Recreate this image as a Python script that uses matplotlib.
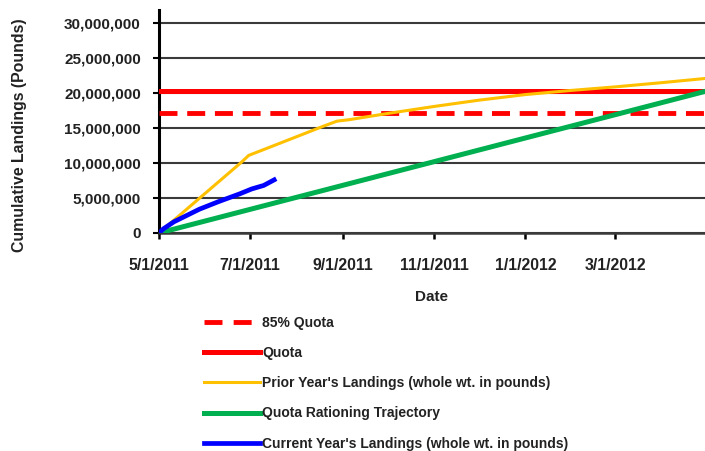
import matplotlib
matplotlib.use("Agg")
import matplotlib.pyplot as plt
from matplotlib.ticker import FuncFormatter, MultipleLocator
import datetime as dt

# Season window
season_start = "2011-05-01"
season_end = "2012-04-30"

quota = 20_250_000
quota_85 = 0.85 * quota

# Prior year's cumulative landings
prior_dates = ["2011-05-01", "2011-06-25", "2011-06-30", "2011-07-18", "2011-08-18",
               "2011-08-28", "2011-09-05", "2011-10-01", "2011-11-01", "2011-12-01",
               "2012-01-01", "2012-02-01", "2012-03-01", "2012-04-01", "2012-04-30"]
prior_vals = [0, 10_100_000, 11_100_000, 12_600_000, 15_200_000,
              16_000_000, 16_200_000, 17_100_000, 18_100_000, 19_000_000,
              19_800_000, 20_400_000, 20_900_000, 21_500_000, 22_100_000]

# Current year's cumulative landings
current_dates = ["2011-05-01", "2011-05-04", "2011-05-11", "2011-05-28", "2011-06-10",
                 "2011-06-24", "2011-07-02", "2011-07-10", "2011-07-17"]
current_vals = [0, 600_000, 1_600_000, 3_400_000, 4_500_000,
                5_600_000, 6_300_000, 6_800_000, 7_600_000]

# Quota rationing trajectory: straight line to the quota at season end
traj_dates = [season_start, season_end]
traj_vals = [0, quota]

tick_dates = ["2011-05-01", "2011-07-01", "2011-09-01", "2011-11-01", "2012-01-01", "2012-03-01"]
tick_labels = ["5/1/2011", "7/1/2011", "9/1/2011", "11/1/2011", "1/1/2012", "3/1/2012"]


def to_dt(seq):
    return [dt.datetime.strptime(s, "%Y-%m-%d") for s in seq]


plt.rcParams["font.family"] = ["Liberation Sans", "DejaVu Sans"]

fig = plt.figure(figsize=(7.05, 4.51), dpi=100)
ax = fig.add_axes([0.2255, 0.4834, 0.7745, 0.4945])

season = to_dt([season_start, season_end])
ax.set_xlim(season[0], season[1])
ax.set_ylim(0, 31_900_000)

ax.plot(season, [quota_85, quota_85], color="#FF0000", lw=3.5, dashes=(3.7, 2.0),
        label="85% Quota", zorder=3)
ax.plot(season, [quota, quota], color="#FF0000", lw=3.6, label="Quota", zorder=3)
ax.plot(to_dt(prior_dates), prior_vals, color="#FFC000", lw=2.2,
        label="Prior Year's Landings (whole wt. in pounds)", zorder=4)
ax.plot(to_dt(traj_dates), traj_vals, color="#00B050", lw=3.6,
        label="Quota Rationing Trajectory", zorder=4)
ax.plot(to_dt(current_dates), current_vals, color="#0000FF", lw=3.4,
        label="Current Year's Landings (whole wt. in pounds)", zorder=5)

# Gridlines
ax.yaxis.set_major_locator(MultipleLocator(5_000_000))
ax.yaxis.set_major_formatter(FuncFormatter(lambda v, p: f"{int(v):,}"))
ax.grid(axis="y", color="#3a3a3a", lw=1.5, zorder=1)
ax.set_axisbelow(True)

ax.set_xticks(to_dt(tick_dates))
ax.set_xticklabels(tick_labels)

for s in ["top", "right"]:
    ax.spines[s].set_visible(False)
ax.spines["left"].set_color("black")
ax.spines["left"].set_linewidth(2.2)
ax.spines["bottom"].set_color("#3a3a3a")
ax.spines["bottom"].set_linewidth(1.8)

ax.tick_params(axis="y", direction="out", length=4, width=1.5, labelsize=11, pad=9)
ax.tick_params(axis="x", direction="out", length=4, width=1.8, labelsize=11.4, pad=14)
for lbl in ax.get_xticklabels() + ax.get_yticklabels():
    lbl.set_fontweight("bold")
    lbl.set_color("#222222")

ax.set_xlabel("Date", fontsize=11, fontweight="bold", labelpad=12, color="#222222")
fig.text(0.027, 0.70, "Cumulative Landings (Pounds)", rotation=90, fontsize=11.4,
         fontweight="bold", ha="center", va="center", color="#222222")

handles, labels = ax.get_legend_handles_labels()
leg = fig.legend(handles, labels, loc="upper left", bbox_to_anchor=(0.2816, 0.3114),
                 frameon=False, fontsize=10, handlelength=4.0, handletextpad=0.2,
                 labelspacing=1.16, borderaxespad=0)
# two whole dashes in the legend sample
leg.legend_handles[0].set_dashes((3.7, 2.3))
for t in leg.get_texts():
    t.set_fontweight("bold")
    t.set_color("#222222")

fig.savefig("out.png", dpi=100)
